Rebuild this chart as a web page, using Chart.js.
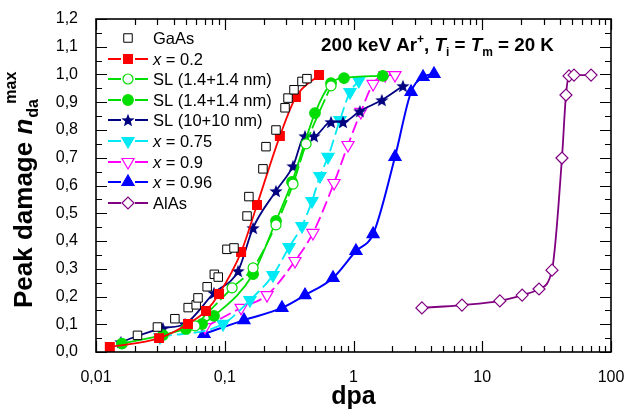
<!DOCTYPE html>
<html>
<head>
<meta charset="utf-8">
<script src="https://cdn.jsdelivr.net/npm/chart.js@4.4.1/dist/chart.umd.min.js"></script>
<style>
  html, body { margin: 0; padding: 0; background: #fff; }
</style>
</head>
<body>
<canvas id="damageChart" width="627" height="410"></canvas>
<script>
var FONT = "'Liberation Sans', Arial, sans-serif";

// tick labels
var xTicks = [0.01, 0.1, 1, 10, 100];
var xTickLabels = ['0,01', '0,1', '1', '10', '100'];
var yTicks = [0, 0.1, 0.2, 0.3, 0.4, 0.5, 0.6, 0.7, 0.8, 0.9, 1.0, 1.1, 1.2];
var yTickLabels = ['0,0', '0,1', '0,2', '0,3', '0,4', '0,5', '0,6', '0,7', '0,8', '0,9', '1,0', '1,1', '1,2'];

// GaAs
var gaasX = [0.021, 0.030, 0.041, 0.052, 0.060, 0.062, 0.073, 0.083, 0.089, 0.104, 0.118, 0.149, 0.154, 0.198, 0.209, 0.250, 0.294, 0.310, 0.345, 0.398, 0.435];
var gaasY = [0.06, 0.09, 0.12, 0.16, 0.17, 0.195, 0.235, 0.28, 0.27, 0.37, 0.375, 0.49, 0.56, 0.66, 0.74, 0.80, 0.88, 0.915, 0.945, 0.975, 0.985];
// x = 0.2
var x02X = [0.0128, 0.0309, 0.0518, 0.0715, 0.0903, 0.134, 0.178, 0.268, 0.357, 0.540];
var x02Y = [0.018, 0.050, 0.101, 0.148, 0.209, 0.360, 0.530, 0.778, 0.919, 0.998];
// SL (1.4+1.4 nm), open circles
var slOpenX = [0.0588, 0.114, 0.166, 0.250, 0.339, 0.428, 0.669];
var slOpenY = [0.094, 0.231, 0.303, 0.458, 0.605, 0.750, 0.959];
// SL (1.4+1.4 nm), filled circles
var slFillX = [0.0159, 0.0331, 0.0500, 0.0666, 0.0825, 0.166, 0.250, 0.333, 0.502, 0.669, 0.844, 1.69];
var slFillY = [0.030, 0.061, 0.083, 0.101, 0.130, 0.281, 0.472, 0.613, 0.861, 0.969, 0.987, 0.995];
// SL (10+10 nm)
var sl10X = [0.0156, 0.0331, 0.0491, 0.0825, 0.127, 0.166, 0.250, 0.339, 0.420, 0.493, 0.669, 0.829, 1.12, 1.66, 2.42];
var sl10Y = [0.036, 0.086, 0.101, 0.213, 0.292, 0.447, 0.580, 0.670, 0.778, 0.778, 0.829, 0.829, 0.868, 0.908, 0.959];
// x = 0.75
var x075X = [0.0314, 0.0969, 0.157, 0.237, 0.316, 0.398, 0.476, 0.549, 0.634, 0.785, 0.939, 1.10];
var x075Y = [0.054, 0.101, 0.187, 0.277, 0.378, 0.454, 0.544, 0.634, 0.703, 0.836, 0.937, 0.977];
// x = 0.9
var x09X = [0.0703, 0.134, 0.213, 0.351, 0.484, 0.706, 0.906, 1.14, 1.42, 1.76, 2.10];
var x09Y = [0.090, 0.159, 0.205, 0.328, 0.429, 0.609, 0.746, 0.865, 0.966, 0.998, 0.998];
// x = 0.96
var x096X = [0.069, 0.141, 0.278, 0.420, 0.693, 1.045, 1.42, 2.10, 2.80, 3.47, 4.22];
var x096Y = [0.065, 0.115, 0.159, 0.205, 0.267, 0.364, 0.425, 0.703, 0.937, 0.991, 1.002];
// AlAs
var alasX = [3.40, 6.96, 13.7, 20.4, 27.6, 34.8, 41.6, 44.7, 47.2, 51.6, 70.0];
var alasY = [0.159, 0.169, 0.184, 0.205, 0.227, 0.295, 0.699, 0.926, 0.995, 0.998, 0.998];

function zip(xs, ys) {
	return xs.map(function (x, i) { return { x: x, y: ys[i] }; });
}

function starImage(color, size) {
	var c = document.createElement('canvas');
	c.width = size; c.height = size;
	var g = c.getContext('2d');
	var cx = size / 2, cy = size / 2 + 0.7, R = size / 2, r = R * 0.42;
	g.beginPath();
	for (var k = 0; k < 10; k++) {
		var a = -Math.PI / 2 + k * Math.PI / 5;
		var rr = k % 2 === 0 ? R : r;
		g.lineTo(cx + rr * Math.cos(a), cy + rr * Math.sin(a));
	}
	g.closePath();
	g.fillStyle = color;
	g.fill();
	return c;
}

function series(legendText, xs, ys, color, o) {
	return {
		legendText: legendText,
		data: zip(xs, ys),
		borderColor: color,
		borderWidth: o.lineWidth || 1.8,
		borderDash: o.dash || [],
		showLine: o.showLine !== false,
		cubicInterpolationMode: 'monotone',
		fill: false,
		pointStyle: o.style,
		pointRotation: o.rotation || 0,
		pointRadius: o.radius,
		pointBorderWidth: o.pbw || 1.2,
		pointBorderColor: color,
		pointBackgroundColor: o.open ? '#fff' : color
	};
}

var datasets = [
	series([{ t: 'GaAs' }], gaasX, gaasY, '#000', { style: 'rect', radius: 6, open: true, showLine: false, pbw: 1 }),
	series([{ t: 'x', it: true }, { t: ' = 0.2' }], x02X, x02Y, '#ff0000', { style: 'rect', radius: 6.2 }),
	series([{ t: 'SL (1.4+1.4 nm)' }], slOpenX, slOpenY, '#00dd00', { style: 'circle', radius: 5, open: true, dash: [14, 4] }),
	series([{ t: 'SL (1.4+1.4 nm)' }], slFillX, slFillY, '#00dd00', { style: 'circle', radius: 5.3 }),
	series([{ t: 'SL (10+10 nm)' }], sl10X, sl10Y, '#000080', { style: starImage('#000080', 14), radius: 6 }),
	series([{ t: 'x', it: true }, { t: ' = 0.75' }], x075X, x075Y, '#00eaf5', { style: 'triangle', rotation: 180, radius: 7, dash: [12, 5] }),
	series([{ t: 'x', it: true }, { t: ' = 0.9' }], x09X, x09Y, '#ff00ff', { style: 'triangle', rotation: 180, radius: 7, open: true, dash: [12, 5] }),
	series([{ t: 'x', it: true }, { t: ' = 0.96' }], x096X, x096Y, '#0000ff', { style: 'triangle', radius: 7, lineWidth: 2 }),
	series([{ t: 'AlAs' }], alasX, alasY, '#800080', { style: 'rectRot', radius: 6, open: true })
];

function richText(ctx, x, y, segs, weight, size) {
	segs.forEach(function (s) {
		var fs = s.size || size;
		ctx.font = (s.it ? 'italic ' : '') + weight + ' ' + fs + 'px ' + FONT;
		ctx.fillText(s.t, x + (s.dx || 0), y + (s.dy || 0));
		if (!s.stay) x += ctx.measureText(s.t).width + (s.dx || 0);
	});
	return x;
}

// frame and inward ticks on all four sides
var axesFrame = {
	id: 'axesFrame',
	afterDatasetsDraw: function (chart) {
		var a = chart.chartArea, ctx = chart.ctx;
		var sx = chart.scales.x, sy = chart.scales.y;
		var major = 11, minor = 6;
		ctx.save();
		ctx.strokeStyle = '#000';
		ctx.lineWidth = 1.2;
		ctx.beginPath();
		function xTick(v, len) {
			var p = Math.round(sx.getPixelForValue(v)) + 0.5;
			ctx.moveTo(p, a.bottom); ctx.lineTo(p, a.bottom - len);
			ctx.moveTo(p, a.top); ctx.lineTo(p, a.top + len);
		}
		function yTick(v, len) {
			var p = Math.round(sy.getPixelForValue(v)) + 0.5;
			ctx.moveTo(a.left, p); ctx.lineTo(a.left + len, p);
			ctx.moveTo(a.right, p); ctx.lineTo(a.right - len, p);
		}
		xTicks.forEach(function (v, i) {
			xTick(v, major);
			if (i < xTicks.length - 1) {
				for (var m = 2; m <= 9; m++) xTick(v * m, minor);
			}
		});
		yTicks.forEach(function (v, i) {
			yTick(v, major);
			if (i < yTicks.length - 1) yTick(v + 0.05, minor);
		});
		ctx.stroke();
		ctx.lineWidth = 1.6;
		ctx.strokeRect(a.left, a.top, a.right - a.left, a.bottom - a.top);
		ctx.restore();
	}
};

// legend inside the plot, axis titles and the annotation
var labelsPlugin = {
	id: 'labelsPlugin',
	afterDraw: function (chart) {
		var ctx = chart.ctx;
		ctx.save();
		ctx.fillStyle = '#000';
		ctx.textBaseline = 'alphabetic';

		chart.data.datasets.forEach(function (ds, i) {
			var y = Math.round(38 + i * 20.6);
			var cx = 128;
			ctx.save();
			if (ds.showLine) {
				ctx.strokeStyle = ds.borderColor;
				ctx.lineWidth = ds.borderWidth;
				ctx.beginPath();
				ctx.moveTo(108, y); ctx.lineTo(cx - 7, y);
				ctx.moveTo(cx + 7, y); ctx.lineTo(148, y);
				ctx.stroke();
			}
			ctx.fillStyle = ds.pointBackgroundColor;
			ctx.strokeStyle = ds.pointBorderColor;
			ctx.lineWidth = ds.pointBorderWidth;
			Chart.helpers.drawPoint(ctx, {
				pointStyle: ds.pointStyle,
				rotation: ds.pointRotation,
				radius: ds.pointRadius,
				borderWidth: ds.pointBorderWidth
			}, cx, y);
			ctx.restore();
			ctx.fillStyle = '#000';
			richText(ctx, 153, y + 6, ds.legendText, 'normal', 16.5);
		});

		// annotation
		richText(ctx, 321, 51, [
			{ t: '200 keV Ar' },
			{ t: '+', size: 12, dy: -8 },
			{ t: ', ' },
			{ t: 'T', it: true },
			{ t: 'i', size: 12, dy: 5 },
			{ t: ' = ' },
			{ t: 'T', it: true },
			{ t: 'm', size: 12, dy: 5 },
			{ t: ' = 20 K' }
		], 'bold', 18.8);

		// x title
		ctx.font = 'bold 25px ' + FONT;
		ctx.textAlign = 'center';
		ctx.fillText('dpa', (chart.chartArea.left + chart.chartArea.right) / 2, 404);

		// y title, rotated
		ctx.textAlign = 'left';
		ctx.translate(32, 308);
		ctx.rotate(-Math.PI / 2);
		var xe = richText(ctx, 0, 0, [
			{ t: 'Peak damage ' },
			{ t: 'n', it: true }
		], 'bold', 26);
		richText(ctx, xe + 1, 0, [{ t: 'da', dy: 6, stay: true }], 'bold', 16);
		richText(ctx, xe + 15, 0, [{ t: 'max', dy: -16 }], 'bold', 16);
		ctx.restore();
	}
};

var ctx = document.getElementById('damageChart').getContext('2d');
var chart = new Chart(ctx, {
	type: 'line',
	data: { datasets: datasets },
	options: {
		responsive: false,
		animation: false,
		devicePixelRatio: 1,
		layout: { padding: { left: 0, top: 19, right: 16, bottom: 0 } },
		plugins: {
			legend: { display: false },
			tooltip: { enabled: false }
		},
		scales: {
			x: {
				type: 'logarithmic',
				min: 0.01,
				max: 100,
				grid: { display: false },
				border: { display: false },
				afterBuildTicks: function (s) { s.ticks = xTicks.map(function (v) { return { value: v }; }); },
				afterFit: function (s) { s.height = 58; s.paddingLeft = 0; s.paddingRight = 0; },
				ticks: {
					autoSkip: false,
					maxRotation: 0,
					padding: 8,
					color: '#000',
					font: { family: FONT, size: 16 },
					callback: function (v, i) { return xTickLabels[i]; }
				}
			},
			y: {
				min: 0,
				max: 1.2,
				grid: { display: false },
				border: { display: false },
				afterBuildTicks: function (s) { s.ticks = yTicks.map(function (v) { return { value: v }; }); },
				afterFit: function (s) { s.width = 96; s.paddingTop = 0; s.paddingBottom = 0; },
				ticks: {
					padding: 10,
					color: '#000',
					font: { family: FONT, size: 16 },
					callback: function (v, i) { return yTickLabels[i]; }
				}
			}
		}
	},
	plugins: [axesFrame, labelsPlugin]
});
</script>
</body>
</html>
